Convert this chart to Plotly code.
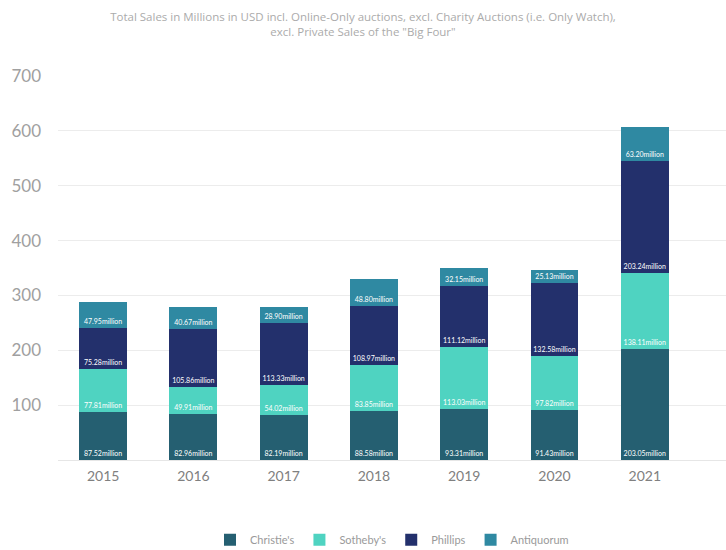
import plotly.graph_objects as go

years = ["2015", "2016", "2017", "2018", "2019", "2020", "2021"]
christies = [87.52, 82.96, 82.19, 88.58, 93.31, 91.43, 203.05]
sothebys = [77.81, 49.91, 54.02, 83.85, 113.03, 97.82, 138.11]
phillips = [75.28, 105.86, 113.33, 108.97, 111.12, 132.58, 203.24]
antiquorum = [47.95, 40.67, 28.90, 48.80, 32.15, 25.13, 63.20]

series = [
    ("Christie's", christies, "#255f71"),
    ("Sotheby's", sothebys, "#4fd3c1"),
    ("Phillips", phillips, "#23306c"),
    ("Antiquorum", antiquorum, "#2f89a2"),
]

fig = go.Figure()
for name, vals, color in series:
    fig.add_trace(go.Bar(
        name=name, x=years, y=vals,
        marker=dict(color=color, line=dict(width=0)),
        text=[f"{v:.2f}million" for v in vals],
        textposition="inside", insidetextanchor="start",
        textangle=0,
        textfont=dict(family="Lato", size=7, color="white"),
        constraintext="none",
    ))

fig.update_layout(
    barmode="stack",
    bargap=0.47,
    width=726, height=550,
    margin=dict(l=58, r=0, t=76, b=90, autoexpand=False),
    paper_bgcolor="white", plot_bgcolor="white",
    title=dict(
        text="Total Sales in Millions in USD incl. Online-Only auctions, excl. Charity Auctions (i.e. Only Watch),<br>excl. Private Sales of the \"Big Four\"",
        x=0.5, xanchor="center", y=0.962, yanchor="top",
        font=dict(family="Open Sans", size=11.5, color="#ababab"),
    ),
    xaxis=dict(
        range=[-0.5, 6.9], showgrid=False, showline=False, zeroline=False,
        tickfont=dict(family="Lato", size=14, color="#808080"),
        ticks="", ticklabelstandoff=6,
    ),
    yaxis=dict(
        range=[0, 700], tickvals=[0, 100, 200, 300, 400, 500, 600, 700],
        ticktext=["", "100", "200", "300", "400", "500", "600", "700"],
        showgrid=True, gridcolor="#ececec", gridwidth=1,
        zeroline=True, zerolinecolor="#e6e6e6", zerolinewidth=1,
        tickfont=dict(family="Lato", size=17, color="#a0a0a0"),
        ticks="", ticklabelstandoff=16,
    ),
    legend=dict(
        orientation="h", x=0.5, xanchor="center", y=-0.208, yanchor="middle",
        font=dict(family="Lato", size=11, color="#9a9a9a"),
        traceorder="normal",
    ),
    showlegend=True,
)

fig.write_html("out.html")
